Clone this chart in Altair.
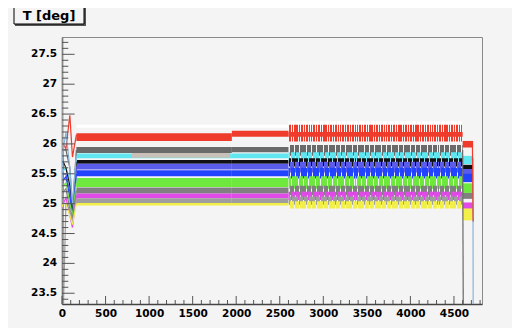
import altair as alt
import pandas as pd

# ---------------- data ----------------
series = ["white", "red", "darkgray", "cyan", "black", "slate", "blue",
          "green", "gray", "magenta", "lightgray", "yellow", "lightblue", "tan"]
colors = ["#ffffff", "#ee3b2b", "#6a6a6a", "#5fe6f0", "#111111", "#5c5cea", "#2244ff",
          "#6ee83c", "#808080", "#e04be8", "#9e9e9e", "#f2ee4a", "#8ab4d8", "#c9c1b9"]

# start-up transient (time in s)
start_x = [0, 15, 45, 90, 120, 165]
start_y = {
    "red":       [25.90, 26.00, 25.92, 26.48, 25.78, 26.15],
    "darkgray":  [23.00, 25.90, 25.90, 25.60, 24.90, 25.90],
    "cyan":      [25.50, 25.55, 25.60, 25.40, 24.80, 25.80],
    "black":     [25.60, 25.70, 25.60, 25.30, 24.80, 25.70],
    "slate":     [25.40, 25.50, 25.50, 25.20, 24.70, 25.62],
    "blue":      [25.30, 25.40, 25.45, 25.10, 24.75, 25.50],
    "green":     [25.20, 25.30, 25.35, 25.00, 24.80, 25.35],
    "gray":      [25.10, 25.20, 25.25, 24.90, 24.75, 25.22],
    "magenta":   [24.90, 25.00, 25.10, 24.80, 24.60, 25.13],
    "lightgray": [27.90, 23.20, 25.00, 24.90, 24.70, 25.05],
    "yellow":    [24.95, 25.00, 25.00, 24.80, 24.65, 25.00],
    "lightblue": [25.40, 25.90, 26.20, 25.60, 25.00, 25.80],
}

# plateau bands: segment edges and low / high values of each segment
band_x = [165, 1950, 2600, 4600, 4720]
band_lo = {
    "white":     [26.27, 26.27, 26.24, None],
    "red":       [26.05, 26.12, 26.04, 25.94],
    "darkgray":  [25.85, 25.86, 25.80, None],
    "cyan":      [25.76, 25.76, 25.72, 25.66],
    "black":     [25.67, 25.67, 25.62, 25.57],
    "slate":     [25.57, 25.57, 25.52, 25.48],
    "blue":      [25.46, 25.46, 25.42, 25.36],
    "green":     [25.28, 25.28, 25.25, 25.18],
    "gray":      [25.17, 25.17, 25.14, 25.08],
    "magenta":   [25.09, 25.09, 25.06, 24.80],
    "lightgray": [25.00, 25.00, 24.98, None],
    "yellow":    [24.97, 24.97, 24.92, 24.72],
}
band_hi = {
    "white":     [26.32, 26.32, 26.38, None],
    "red":       [26.18, 26.22, 26.32, 26.05],
    "darkgray":  [25.95, 25.95, 25.98, None],
    "cyan":      [25.84, 25.84, 25.86, 25.80],
    "black":     [25.73, 25.73, 25.76, 25.65],
    "slate":     [25.67, 25.67, 25.70, 25.58],
    "blue":      [25.56, 25.56, 25.60, 25.50],
    "green":     [25.43, 25.43, 25.46, 25.34],
    "gray":      [25.27, 25.27, 25.30, 25.18],
    "magenta":   [25.17, 25.17, 25.20, 25.02],
    "lightgray": [25.09, 25.09, 25.12, None],
    "yellow":    [25.01, 25.01, 25.04, 24.92],
}
# solid core of the red band in the noisy part
red_core = (26.12, 26.20)
# extra overlay band (tan) over cyan
tan_x = [800, 1930]
tan_lo = [25.77, 25.77]
tan_hi = [25.85, 25.85]

# end of run drops
end_lines = {
    "darkgray":  ([4600, 4610], [25.90, 22.00]),
    "lightblue": ([4700, 4718, 4722], [25.75, 25.75, 22.00]),
    "red":       ([4712, 4720, 4724], [26.00, 24.72, 24.70]),
}

y_ticks = [23.5, 24, 24.5, 25, 25.5, 26, 26.5, 27, 27.5]
y_labels = ["23.5", "24", "24.5", "25", "25.5", "26", "26.5", "27", "27.5"]
x_ticks = [0, 500, 1000, 1500, 2000, 2500, 3000, 3500, 4000, 4500]
title_text = "T [deg]"

# ---------------- tables ----------------
XD = [0, 4822]
YD = [23.32, 27.79]
cmap = dict(zip(series, colors))
NOISY = 2  # index of the noisy segment

area_rows = []
order = 0
for s in series:
    if s not in band_lo:
        continue
    for i in range(4):
        lo, hi = band_lo[s][i], band_hi[s][i]
        if lo is None or i == NOISY:
            continue
        key = f"{order:03d}"
        order += 1
        for xx in (band_x[i], band_x[i + 1]):
            area_rows.append(dict(key=key, s=s, x=xx, lo=lo, hi=hi))
key = f"{order:03d}"
for xx, lo, hi in zip(tan_x, tan_lo, tan_hi):
    area_rows.append(dict(key=key, s="tan", x=xx, lo=lo, hi=hi))
areas = pd.DataFrame(area_rows)

line_rows = []
for s, ys in start_y.items():
    for i, (xx, yy) in enumerate(zip(start_x, ys)):
        line_rows.append(dict(key="a_" + s, s=s, x=xx, y=yy, o=i))
for s, (xs_, ys_) in end_lines.items():
    for i, (xx, yy) in enumerate(zip(xs_, ys_)):
        line_rows.append(dict(key="b_" + s, s=s, x=xx, y=yy, o=i))
lines = pd.DataFrame(line_rows)

W, H = 420, 267
xs = alt.Scale(domain=XD, nice=False, zero=False)
ys = alt.Scale(domain=YD, nice=False, zero=False)
cs = alt.Scale(domain=series, range=colors)
FONT = "DejaVu Sans"


def X(f):
    return alt.X(f, scale=xs, title=None)


def Y(f):
    return alt.Y(f, scale=ys, title=None)


x_axis = alt.Axis(values=x_ticks, ticks=False, grid=False, domainColor="#444", domainWidth=1.5,
                  labelFont=FONT, labelFontWeight="bold", labelFontSize=10.5, labelColor="#000",
                  labelPadding=4, title=None, labelFlush=False, labelOverlap=False, format="d")
y_axis = alt.Axis(values=y_ticks, ticks=False, grid=False, domainColor="#444", domainWidth=1.5,
                  labels=False, title=None)

band_layer = alt.Chart(areas).mark_area(clip=True, interpolate="linear").encode(
    x=alt.X("x:Q", scale=xs, axis=x_axis),
    y=alt.Y("lo:Q", scale=ys, axis=y_axis),
    y2="hi:Q",
    color=alt.Color("s:N", scale=cs, legend=None),
    detail="key:N",
)


# striped (noisy) segment: one layer per series, stripes drawn as a gradient fill
def stripes(color, n=72, duty=0.82, phase=0.0):
    stops = []
    for k in range(n):
        a = min(max((k + phase) / n, 0), 1)
        b = min(max((k + phase + duty) / n, 0), 1)
        stops += [alt.GradientStop(offset=a, color="rgba(0,0,0,0)"),
                  alt.GradientStop(offset=a, color=color),
                  alt.GradientStop(offset=b, color=color),
                  alt.GradientStop(offset=b, color="rgba(0,0,0,0)")]
    return alt.LinearGradient(gradient="linear", stops=stops, x1=0, x2=1, y1=0, y2=0)


noisy_layers = []
for j, s in enumerate(band_lo):
    lo, hi = band_lo[s][NOISY], band_hi[s][NOISY]
    df = pd.DataFrame({"x": [band_x[NOISY], band_x[NOISY + 1]], "lo": [lo, lo], "hi": [hi, hi]})
    duty = 0.62 if s == "red" else 0.82
    if s == "red":
        core = pd.DataFrame({"x": df["x"], "lo": [red_core[0]] * 2, "hi": [red_core[1]] * 2})
        noisy_layers.append(alt.Chart(core).mark_area(clip=True, color=cmap[s]).encode(
            x=X("x:Q"), y=Y("lo:Q"), y2="hi:Q"))
    noisy_layers.append(alt.Chart(df).mark_area(
        clip=True, fill=stripes(cmap[s], duty=duty, phase=0.3 * (j % 3))).encode(
        x=X("x:Q"), y=Y("lo:Q"), y2="hi:Q"))

line_layer = alt.Chart(lines).mark_line(clip=True, strokeWidth=1.2).encode(
    x=X("x:Q"),
    y=Y("y:Q"),
    color=alt.Color("s:N", scale=cs, legend=None),
    detail="key:N",
    order="o:Q",
)

# inward ROOT-style ticks
ymaj = pd.DataFrame({"v": y_ticks, "t": y_labels})
ymin = pd.DataFrame({"v": [round(23.4 + 0.1 * i, 1) for i in range(44)
                           if round(23.4 + 0.1 * i, 1) not in y_ticks]})
xmaj = pd.DataFrame({"v": x_ticks})
xmin = pd.DataFrame({"v": [100 * i for i in range(49) if 100 * i not in x_ticks]})

tick_col = "#555"
ymaj_l = alt.Chart(ymaj).mark_rule(color=tick_col, strokeWidth=1).encode(
    y=Y("v:Q"), x=alt.value(0), x2=alt.value(12.6))
ylab_l = alt.Chart(ymaj).mark_text(font=FONT, fontWeight="bold", fontSize=10.5, color="#000",
                                   align="right", baseline="middle").encode(
    y=Y("v:Q"), x=alt.value(-5), text="t:N")
ymin_l = alt.Chart(ymin).mark_rule(color=tick_col, strokeWidth=1).encode(
    y=Y("v:Q"), x=alt.value(0), x2=alt.value(6.3))
xmaj_l = alt.Chart(xmaj).mark_rule(color=tick_col, strokeWidth=1).encode(
    x=X("v:Q"), y=alt.value(H), y2=alt.value(H - 8))
xmin_l = alt.Chart(xmin).mark_rule(color=tick_col, strokeWidth=1).encode(
    x=X("v:Q"), y=alt.value(H), y2=alt.value(H - 4))

one = pd.DataFrame({"a": [0]})
shadow = alt.Chart(one).mark_rect(color="#555").encode(
    x=alt.value(-47), x2=alt.value(24), y=alt.value(-29), y2=alt.value(-11))
box = alt.Chart(one).mark_rect(fill="#f4f4f4", stroke="#000", strokeWidth=1).encode(
    x=alt.value(-48), x2=alt.value(22), y=alt.value(-30), y2=alt.value(-13))
title = alt.Chart(one).mark_text(font=FONT, fontWeight="bold", fontSize=13, color="#000",
                                 align="center", baseline="middle").encode(
    x=alt.value(-13), y=alt.value(-21), text=alt.value(title_text))

chart = alt.layer(band_layer, *noisy_layers, line_layer, ymin_l, ymaj_l, ylab_l, xmin_l, xmaj_l,
                  shadow, box, title).properties(
    width=W, height=H,
    autosize=alt.AutoSizeParams(type="none"),
    padding={"left": 54, "top": 29, "right": 30, "bottom": 24},
    background="#f4f4f4",
).configure_view(stroke="#8a8a8a", strokeWidth=1).configure_axis(labelOverlap=False)

chart.save("out.html", embed_options={"renderer": "svg", "actions": False})
